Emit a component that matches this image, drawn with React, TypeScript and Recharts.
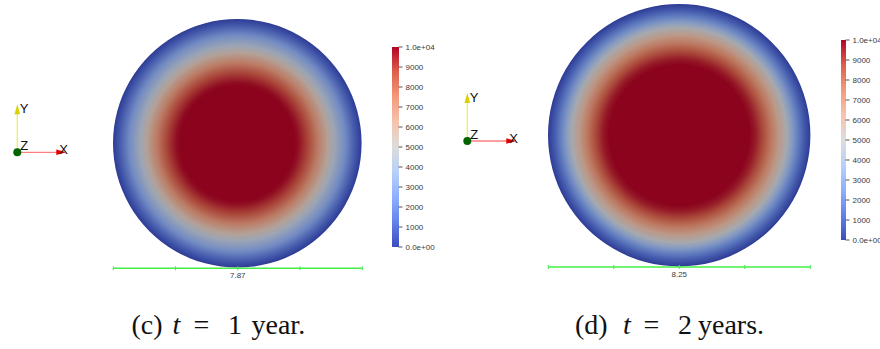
import React from "react";
import { PieChart, Pie, Cell, BarChart, Bar, XAxis, YAxis } from "recharts";

// radial profile of the field, radius as a fraction of the disk radius
const radiusC = [0, 0.46, 0.49, 0.57, 0.65, 0.73, 0.785, 0.87, 0.95, 1.0];
const valueC = [10000, 10000, 9800, 8800, 7300, 5600, 4400, 2700, 900, 0];
const radiusD = [0, 0.534, 0.58, 0.64, 0.7, 0.76, 0.82, 0.86, 0.9, 0.95, 1.0];
const valueD = [10000, 10000, 9600, 8700, 7500, 6200, 4800, 3500, 2300, 1000, 0];

const colorbarTicks = [0, 1000, 2000, 3000, 4000, 5000, 6000, 7000, 8000, 9000, 10000];
const rulerLabels = ["7.87", "8.25"];

// cool to warm colormap
const cmap: [number, number, number, number][] = [
  [0, 59, 76, 192],
  [0.125, 98, 130, 234],
  [0.25, 141, 176, 254],
  [0.375, 184, 208, 249],
  [0.5, 221, 221, 221],
  [0.625, 245, 196, 173],
  [0.75, 244, 154, 123],
  [0.875, 222, 96, 77],
  [1, 180, 4, 38],
];

function coolWarm(v: number, shade = 1) {
  const t = Math.max(0, Math.min(1, v / 10000));
  let i = 0;
  while (i < cmap.length - 2 && t > cmap[i + 1][0]) i++;
  const a = cmap[i];
  const b = cmap[i + 1];
  const f = (t - a[0]) / (b[0] - a[0]);
  const c = [1, 2, 3].map((k) => Math.round((a[k] + (b[k] - a[k]) * f) * shade));
  return `rgb(${c[0]},${c[1]},${c[2]})`;
}

const DISK_SHADE = 0.77;

function Disk({ id, cx, cy, r, radii, values }: any) {
  const size = 2 * r + 4;
  return (
    <div style={{ position: "absolute", left: cx - size / 2, top: cy - size / 2 }}>
      <PieChart width={size} height={size} margin={{ top: 0, right: 0, bottom: 0, left: 0 }}>
        <defs>
          <radialGradient id={id} cx="0.5" cy="0.5" r="0.5">
            {radii.map((f: number, i: number) => (
              <stop key={i} offset={f} stopColor={coolWarm(values[i], DISK_SHADE)} />
            ))}
          </radialGradient>
        </defs>
        <Pie
          data={[{ name: "disk", value: 1 }]}
          dataKey="value"
          cx={size / 2}
          cy={size / 2}
          innerRadius={0}
          outerRadius={r}
          startAngle={90}
          endAngle={-270}
          stroke="none"
          isAnimationActive={false}
        >
          <Cell fill={`url(#${id})`} />
        </Pie>
        <Pie
          data={[{ name: "probe", value: 1 }]}
          dataKey="value"
          cx={size / 2}
          cy={size / 2}
          innerRadius={0}
          outerRadius={1.4}
          stroke="none"
          isAnimationActive={false}
        >
          <Cell fill="#d800d8" />
        </Pie>
      </PieChart>
    </div>
  );
}

function ColorBar({ id, left, top, barWidth }: any) {
  const fmt = (v: number) => (v === 0 ? "0.0e+00" : v === 10000 ? "1.0e+04" : String(v));
  return (
    <div style={{ position: "absolute", left, top: top - 6 }}>
      <BarChart
        width={barWidth + 45}
        height={212}
        data={[{ name: "range", value: 10000 }]}
        margin={{ top: 6, right: 0, bottom: 6, left: 0 }}
        barCategoryGap={0}
      >
        <defs>
          <linearGradient id={id} x1="0" y1="1" x2="0" y2="0">
            {cmap.map((c, i) => (
              <stop key={i} offset={c[0]} stopColor={coolWarm(c[0] * 10000)} />
            ))}
          </linearGradient>
        </defs>
        <XAxis dataKey="name" hide />
        <YAxis
          orientation="right"
          width={45}
          domain={[0, 10000]}
          ticks={colorbarTicks}
          tickFormatter={fmt}
          axisLine={false}
          tickSize={4}
          tickMargin={3}
          tickLine={{ stroke: "#555" }}
          tick={{ fill: "#3a3a3a", fontSize: 8, fontFamily: "Liberation Sans" }}
          interval={0}
        />
        <Bar dataKey="value" fill={`url(#${id})`} isAnimationActive={false} />
      </BarChart>
    </div>
  );
}

function AxesGlyph({ x, y }: { x: number; y: number }) {
  return (
    <g>
      <line x1={x} y1={y} x2={x} y2={y - 40} stroke="#eeee44" strokeWidth={1.2} />
      <polygon points={`${x - 2.8},${y - 38} ${x + 2.8},${y - 38} ${x},${y - 48}`} fill="#d8d000" />
      <line x1={x} y1={y} x2={x + 40} y2={y} stroke="#ff8080" strokeWidth={1.3} />
      <polygon points={`${x + 39},${y - 2.8} ${x + 39},${y + 2.8} ${x + 49},${y}`} fill="#e00000" />
      <circle cx={x} cy={y} r={4} fill="#006400" />
      <text x={x + 2.5} y={y - 39} fontSize={13} fontFamily="Liberation Sans" fill="#111">Y</text>
      <text x={x + 3} y={y - 2} fontSize={13} fontFamily="Liberation Sans" fill="#111">Z</text>
      <text x={x + 42} y={y + 1.5} fontSize={13} fontFamily="Liberation Sans" fill="#111">X</text>
    </g>
  );
}

function Ruler({ x1, x2, y, label }: { x1: number; x2: number; y: number; label: string }) {
  const ticks = [0, 1, 2, 3, 4].map((i) => x1 + ((x2 - x1) * i) / 4);
  return (
    <g>
      <line x1={x1} y1={y} x2={x2} y2={y} stroke="#44ee44" strokeWidth={1.4} />
      {ticks.map((t, i) => (
        <line key={i} x1={t} y1={y - 2} x2={t} y2={y + 2} stroke="#44ee44" strokeWidth={1} />
      ))}
      <text x={(x1 + x2) / 2} y={y + 9.5} textAnchor="middle" fontSize={8} fontFamily="Liberation Sans" fill="#3a3a3a">
        {label}
      </text>
    </g>
  );
}

export default function App() {
  const serif = "Liberation Serif";
  return (
    <div
      style={{
        position: "absolute",
        left: 0,
        top: 0,
        width: 880,
        height: 349,
        overflow: "hidden",
        background: "#fff",
      }}
    >
      <Disk id="diskC" cx={237.7} cy={143.6} r={124.3} radii={radiusC} values={valueC} />
      <Disk id="diskD" cx={679.2} cy={134.9} r={131.2} radii={radiusD} values={valueD} />
      <ColorBar id="cbC" left={392} top={47.3} barWidth={6.5} />
      <ColorBar id="cbD" left={840.7} top={40} barWidth={4.5} />
      <svg width={880} height={349} style={{ position: "absolute", left: 0, top: 0 }}>
        <AxesGlyph x={17.3} y={152.3} />
        <AxesGlyph x={467.3} y={141} />
        <Ruler x1={113.3} x2={362.3} y={268.3} label={rulerLabels[0]} />
        <Ruler x1={548.3} x2={810.3} y={267} label={rulerLabels[1]} />
        <text y={334} fontSize={28} fontFamily={serif} fill="#111">
          <tspan x={131.5}>(c)</tspan>
          <tspan x={172.5} fontStyle="italic">t</tspan>
          <tspan x={193.5}>=</tspan>
          <tspan x={228}>1</tspan>
          <tspan x={251.5}>year.</tspan>
        </text>
        <text y={334} fontSize={28} fontFamily={serif} fill="#111">
          <tspan x={575}>(d)</tspan>
          <tspan x={623} fontStyle="italic">t</tspan>
          <tspan x={643.5}>=</tspan>
          <tspan x={678}>2</tspan>
          <tspan x={698}>years.</tspan>
        </text>
      </svg>
    </div>
  );
}
